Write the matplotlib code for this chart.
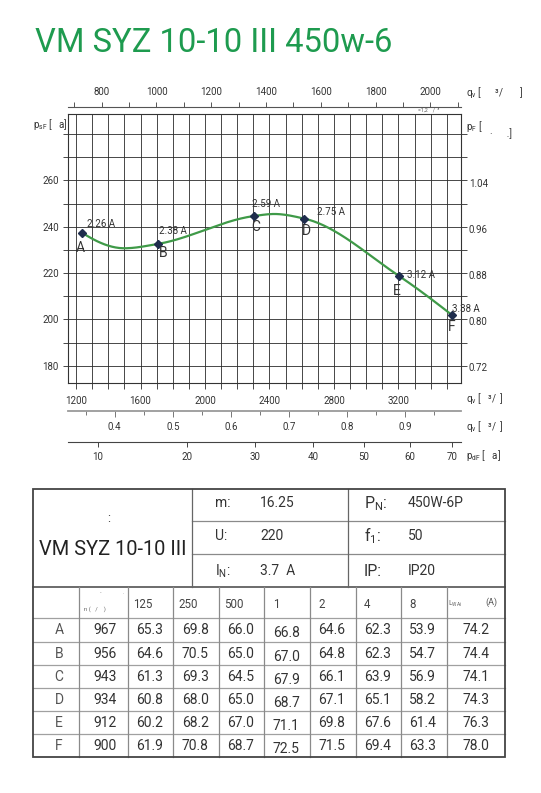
import numpy as np
import matplotlib
matplotlib.use('Agg')
import matplotlib.pyplot as plt
from matplotlib.ticker import FixedLocator, FormatStrFormatter, NullFormatter
from matplotlib.lines import Line2D
from matplotlib.patches import Rectangle

plt.rcParams['font.family'] = ['Roboto', 'DejaVu Sans']
plt.rcParams['mathtext.fontset'] = 'custom'
plt.rcParams['mathtext.rm'] = 'Roboto'
plt.rcParams['mathtext.it'] = 'Roboto'

# ---------------- data ----------------
title = "VM SYZ 10-10 III 450w-6"
model_name = "VM SYZ 10-10 III"
point_names = ["A", "B", "C", "D", "E", "F"]
point_q = [1238, 1710, 2302, 2616, 3202, 3533]          # m3/h
point_p = [237.4, 232.6, 244.6, 243.5, 218.8, 201.8]    # Pa
point_amps = ["2.26 A", "2.38 A", "2.59 A", "2.75 A", "3.12 A", "3.38 A"]
# extra curve points (local minimum / maximum)
curve_q = [1238, 1500, 1710, 2302, 2430, 2616, 3202, 3533]
curve_p = [237.4, 230.7, 232.6, 244.6, 245.5, 243.5, 218.8, 201.8]

x_major = [1200, 1600, 2000, 2400, 2800, 3200]
y_major = [180, 200, 220, 240, 260]
cfm_major = [800, 1000, 1200, 1400, 1600, 1800, 2000]
cfm_minor = [700, 900, 1100, 1300, 1500, 1700, 1900, 2100]
m3s_major = [0.4, 0.5, 0.6, 0.7, 0.8, 0.9]
m3s_minor = [0.35, 0.45, 0.55, 0.65, 0.75, 0.85, 0.95]
pd_major = [10, 20, 30, 40, 50, 60, 70]
inwg_major = [0.72, 0.80, 0.88, 0.96, 1.04]

info_left = [("m:", "16.25"), ("U:", "220"), ("I$_\\mathregular{N}$:", "3.7  A")]
info_right = [("P$_\\mathregular{N}$:", "450W-6P"), ("f$_\\mathregular{1}$:", "50"), ("IP:", "IP20")]
band_headers = ["125", "250", "500", "1", "2", "4", "8"]
rpm = [967, 956, 943, 934, 912, 900]
bands = [
    [65.3, 69.8, 66.0, 66.8, 64.6, 62.3, 53.9],
    [64.6, 70.5, 65.0, 67.0, 64.8, 62.3, 54.7],
    [61.3, 69.3, 64.5, 67.9, 66.1, 63.9, 56.9],
    [60.8, 68.0, 65.0, 68.7, 67.1, 65.1, 58.2],
    [60.2, 68.2, 67.0, 71.1, 69.8, 67.6, 61.4],
    [61.9, 70.8, 68.7, 72.5, 71.5, 69.4, 63.3],
]
lwa = [74.2, 74.4, 74.1, 74.3, 76.3, 78.0]

CFM = 1.699       # m3/h per cfm
INWG = 249.09     # Pa per in.wg
KPD = 422.0       # q = KPD*sqrt(pd)

# ---------------- helpers ----------------
def pchip(x, y, xs):
    x = np.asarray(x, float); y = np.asarray(y, float); xs = np.asarray(xs, float)
    h = np.diff(x); d = np.diff(y) / h
    n = len(x); m = np.zeros(n)
    for k in range(1, n - 1):
        if d[k - 1] * d[k] > 0:
            w1 = 2 * h[k] + h[k - 1]; w2 = h[k] + 2 * h[k - 1]
            m[k] = (w1 + w2) / (w1 / d[k - 1] + w2 / d[k])
    def end(h0, h1, d0, d1):
        s = ((2 * h0 + h1) * d0 - h0 * d1) / (h0 + h1)
        if np.sign(s) != np.sign(d0):
            s = 0.0
        elif np.sign(d0) != np.sign(d1) and abs(s) > abs(3 * d0):
            s = 3 * d0
        return s
    m[0] = end(h[0], h[1], d[0], d[1])
    m[-1] = end(h[-1], h[-2], d[-1], d[-2])
    i = np.clip(np.searchsorted(x, xs) - 1, 0, n - 2)
    t = (xs - x[i]) / h[i]
    h00 = 2 * t**3 - 3 * t**2 + 1; h10 = t**3 - 2 * t**2 + t
    h01 = -2 * t**3 + 3 * t**2; h11 = t**3 - t**2
    return h00 * y[i] + h10 * h[i] * m[i] + h01 * y[i + 1] + h11 * h[i] * m[i + 1]

W, H = 541, 793
fig = plt.figure(figsize=(W / 100, H / 100), dpi=100)
PX = 0.72  # points per pixel

# ---------------- main chart ----------------
L, R, T, B = 68.3, 460.7, 113.7, 383.3
ax = fig.add_axes([L / W, 1 - B / H, (R - L) / W, (B - T) / H])
ax.set_xlim(1152, 3586)
ax.set_ylim(172.4, 288.8)
grid_c = '#2a2a2a'
ax.xaxis.set_major_locator(FixedLocator(x_major))
ax.xaxis.set_minor_locator(FixedLocator(np.arange(1200, 3600, 100)))
ax.yaxis.set_major_locator(FixedLocator(y_major))
ax.yaxis.set_minor_locator(FixedLocator(np.arange(180, 290, 10)))
ax.xaxis.set_minor_formatter(NullFormatter())
ax.yaxis.set_minor_formatter(NullFormatter())
ax.grid(which='both', color=grid_c, lw=0.6)
ax.set_axisbelow(True)
ax.tick_params(which='both', direction='out', length=5.5 * PX, width=0.6, color=grid_c,
               left=True, right=True, bottom=True, top=False, labelsize=7, labelcolor='#333')
ax.tick_params(axis='x', pad=7 * PX)
ax.tick_params(axis='y', pad=4 * PX)
for s in ax.spines.values():
    s.set_color('#333'); s.set_linewidth(0.8)

qs = np.linspace(curve_q[0], curve_q[-1], 300)
ax.plot(qs, pchip(curve_q, curve_p, qs), color='#3f9a48', lw=1.6, zorder=3)
ax.plot(point_q, point_p, ls='none', marker='D', ms=3.6, color='#1f2d4d', zorder=4)

amp_off = [(4.5, -9), (1, -12.4), (-2, -12), (13, -7), (8, -1), (0, -6.5)]
let_off = [(-2.4, 15.5), (5, 9), (1.5, 10.6), (2.4, 12), (-1.7, 15.5), (0, 12)]
for q, p, nm, a, ao, lo in zip(point_q, point_p, point_names, point_amps, amp_off, let_off):
    ax.annotate(a, (q, p), xytext=(ao[0] * PX, -ao[1] * PX), textcoords='offset points',
                ha='left', va='center', fontsize=7, color='#333', zorder=5)
    ax.annotate(nm, (q, p), xytext=(lo[0] * PX, -lo[1] * PX), textcoords='offset points',
                ha='center', va='center', fontsize=10, color='#333', zorder=5)

# right axis (in.wg)
ay = ax.secondary_yaxis('right', functions=(lambda p: p / INWG, lambda i: i * INWG))
ay.yaxis.set_major_locator(FixedLocator(inwg_major))
ay.yaxis.set_major_formatter(FormatStrFormatter('%.2f'))
ay.tick_params(length=0, pad=8.0 * PX, labelsize=7, labelcolor='#333')
ay.spines['right'].set_visible(False)

# top axis (cfm)
at = ax.secondary_xaxis(1 + 7.0 / (B - T), functions=(lambda q: q / CFM, lambda c: c * CFM))
at.xaxis.set_major_locator(FixedLocator(cfm_major))
at.xaxis.set_minor_locator(FixedLocator(cfm_minor))
at.xaxis.set_minor_formatter(NullFormatter())
at.tick_params(which='both', direction='out', length=5.5 * PX, width=0.7, color='#555',
               labelsize=7, labelcolor='#333', pad=4.5 * PX)
at.spines['top'].set_color('#555'); at.spines['top'].set_linewidth(0.8)

# bottom axis m3/s
a2 = ax.secondary_xaxis(-(411.0 - B) / (B - T), functions=(lambda q: q / 3600.0, lambda s: s * 3600.0))
a2.xaxis.set_major_locator(FixedLocator(m3s_major))
a2.xaxis.set_minor_locator(FixedLocator(m3s_minor))
a2.xaxis.set_major_formatter(FormatStrFormatter('%.1f'))
a2.xaxis.set_minor_formatter(NullFormatter())
a2.tick_params(which='major', direction='out', length=6 * PX, width=0.7, color='#777',
               labelsize=7, labelcolor='#333', pad=5.5 * PX)
a2.tick_params(which='minor', direction='out', length=3.5 * PX, width=0.7, color='#777')
a2.spines['bottom'].set_color('#9a9a9a'); a2.spines['bottom'].set_linewidth(1.3)

# bottom axis dynamic pressure
def q2pd(q):
    q = np.asarray(q, float)
    return np.sign(q) * (q / KPD) ** 2
def pd2q(p):
    p = np.asarray(p, float)
    return KPD * np.sqrt(np.clip(p, 0, None))
a3 = ax.secondary_xaxis(-(442.0 - B) / (B - T), functions=(q2pd, pd2q))
a3.xaxis.set_major_locator(FixedLocator(pd_major))
a3.xaxis.set_major_formatter(FormatStrFormatter('%d'))
a3.tick_params(which='major', direction='out', length=5 * PX, width=0.7, color='#444',
               labelsize=7, labelcolor='#333', pad=5 * PX)
a3.spines['bottom'].set_color('#444'); a3.spines['bottom'].set_linewidth(0.8)

# ---------------- overlay in pixel coords ----------------
ov = fig.add_axes([0, 0, 1, 1], zorder=-1)
ov.set_xlim(0, W); ov.set_ylim(H, 0); ov.axis('off')

def txt(x, y, s, **kw):
    kw.setdefault('color', '#333')
    kw.setdefault('va', 'center')
    kw.setdefault('ha', 'left')
    return ov.text(x, y, s, **kw)

renderer = fig.canvas.get_renderer()
def fit_width(t, target):
    w = t.get_window_extent(renderer=renderer).width
    t.set_fontsize(t.get_fontsize() * target / w)

tt = ov.text(35, 52, title, fontsize=23.5, color='#1e9b4f', va='baseline', ha='left')
fit_width(tt, 358)

txt(33, 125, "p$_\\mathregular{sF}$ [   a]", fontsize=7)
txt(466, 126, "p$_\\mathregular{F}$ [", fontsize=7)
txt(490, 133.5, "·      .]", fontsize=7)
txt(466, 93, "q$_\\mathregular{v}$ [      ³/       ]", fontsize=7)
txt(418, 109.5, "=1,2    /  ³", fontsize=3.8, color='#555')
txt(466, 398, "q$_\\mathregular{v}$ [   ³/  ]", fontsize=7)
txt(466, 427, "q$_\\mathregular{v}$ [   ³/  ]", fontsize=7)
txt(466, 455.5, "p$_\\mathregular{dF}$ [   a]", fontsize=7)

# ---------------- table ----------------
TL, TR, TT, TB = 33.3, 505.0, 489.0, 756.7
MID = 586.7
line_c = '#8a8a8a'
def hl(y, x0=TL, x1=TR, c=line_c, lw=0.9):
    ov.add_line(Line2D([x0, x1], [y, y], color=c, lw=lw))
def vl(x, y0, y1, c=line_c, lw=0.9):
    ov.add_line(Line2D([x, x], [y0, y1], color=c, lw=lw))

ov.add_patch(Rectangle((TL, TT), TR - TL, TB - TT, fill=False, ec='#444', lw=1.3, zorder=3))
hl(MID, c='#444', lw=1.1)
for y in [520.7, 554.3]:
    hl(y, 192.3, TR)
vl(192.3, TT, MID, c='#666')
vl(348.3, TT, MID, c='#666')

txt(109, 518, ":", fontsize=9, ha='center')
nm_t = ov.text(112.5, 555, model_name, fontsize=19, color='#222', ha='center', va='baseline')
fit_width(nm_t, 148)

info_y = [503.3, 535.7, 571.0]
for (lab, val), y in zip(info_left, info_y):
    txt(215, y, lab, fontsize=10)
    txt(260, y, val, fontsize=10)
for (lab, val), y in zip(info_right, info_y):
    txt(364, y, lab, fontsize=11.5)
    txt(408, y, val, fontsize=10)

col_edges = [TL, 79.3, 128.3, 173.3, 219.0, 264.3, 310.0, 355.7, 401.0, 446.7, TR]
row_lines = [618.3, 641.7, 665.0, 687.7, 711.0, 734.0]
for y in row_lines:
    hl(y, c='#a0a0a0')
for x in col_edges[1:-1]:
    vl(x, MID, TB, c='#8a8a8a')

hdr_y = 604
txt(83.5, 609, "n (   /    )", fontsize=4.3, color='#666')
txt(100, 593, "-", fontsize=4, color='#888')
txt(123, 593, ".", fontsize=4, color='#888')
for i, h in enumerate(band_headers):
    x0 = col_edges[2 + i]
    txt(x0 + (8.5 if len(h) == 1 else 5), hdr_y, h, fontsize=8.3, color='#444')
txt(448.5, hdr_y, "L$_\\mathregular{WAi}$", fontsize=5, color='#666')
txt(491.7, 602, "(A)", fontsize=6.5, color='#555', ha='center')

row_centers = [(row_lines[i] + (row_lines[i + 1] if i + 1 < len(row_lines) else TB)) / 2 for i in range(len(row_lines))]
for r, yc in enumerate(row_centers):
    yc = yc + 0.5
    txt(59, yc, point_names[r], fontsize=10, color='#555', ha='center')
    txt((col_edges[1] + col_edges[2]) / 2 + 1, yc, str(rpm[r]), fontsize=10, ha='center')
    for c in range(7):
        cx = (col_edges[2 + c] + col_edges[3 + c]) / 2 - 1
        dy = 2.7 if c == 3 else 0
        txt(cx, yc + dy, f"{bands[r][c]:.1f}", fontsize=10, ha='center')
    txt((col_edges[9] + col_edges[10]) / 2, yc, f"{lwa[r]:.1f}", fontsize=10, ha='center')

fig.savefig('out.png', dpi=100)
